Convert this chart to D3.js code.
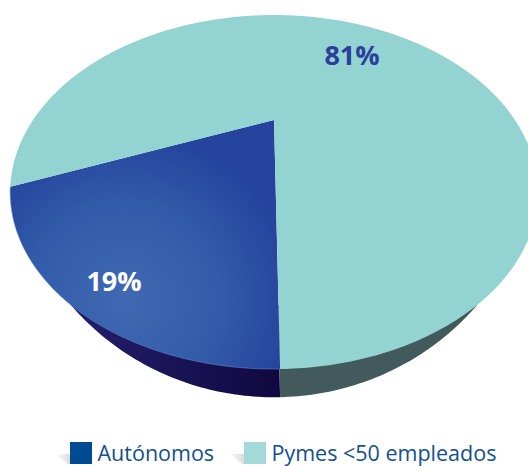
<!DOCTYPE html>
<html>
<head>
<meta charset="utf-8">
<style>
html, body { margin: 0; padding: 0; background: #fff; }
svg { display: block; }
text { font-family: "Open Sans", sans-serif; }
</style>
<script src="https://cdn.jsdelivr.net/npm/d3@7"></script>
</head>
<body>
<div id="chart"></div>
<script>
var categories = ["Autónomos", "Pymes <50 empleados"];
var shares = [19, 81];
var shareLabels = ["19%", "81%"];

var width = 528, height = 466;

var svg = d3.select("#chart").append("svg")
    .attr("width", width)
    .attr("height", height);

var defs = svg.append("defs");

var blueGrad = defs.append("radialGradient")
    .attr("id", "blueTop")
    .attr("gradientUnits", "userSpaceOnUse")
    .attr("cx", 125).attr("cy", 300).attr("r", 170);
blueGrad.append("stop").attr("offset", "0").attr("stop-color", "#4069b3");
blueGrad.append("stop").attr("offset", "0.55").attr("stop-color", "#325ca9");
blueGrad.append("stop").attr("offset", "1").attr("stop-color", "#24449d");

var wallGrad = defs.append("linearGradient")
    .attr("id", "blueWall")
    .attr("gradientUnits", "userSpaceOnUse")
    .attr("x1", 70).attr("y1", 0).attr("x2", 280).attr("y2", 0);
wallGrad.append("stop").attr("offset", "0").attr("stop-color", "#241f6e");
wallGrad.append("stop").attr("offset", "1").attr("stop-color", "#10083f");

var shadowGrad = defs.append("linearGradient")
    .attr("id", "legendShadow")
    .attr("x1", 1).attr("y1", 0).attr("x2", 0).attr("y2", 0);
shadowGrad.append("stop").attr("offset", "0").attr("stop-color", "#dcdcdc");
shadowGrad.append("stop").attr("offset", "1").attr("stop-color", "#fbfbfb");

// the pie is seen in perspective, so the apex sits well above the middle of the ellipse
var apexX = 274, apexY = 120;
var persp = -0.407;
var scaleX = 241, scaleY = 147.7;
var turn = 0.015;

function project(u, v) {
    var w = 1 + persp * v;
    return [apexX + scaleX * u / w, apexY + scaleY * v / w];
}

// below this line the rim shows its side wall, stretched down to the lower edge
var wallFrom = 305, wallStretch = 1.44;

function lower(p) {
    return p[1] > wallFrom ? [p[0], wallFrom + (p[1] - wallFrom) * wallStretch] : p;
}

defs.append("clipPath")
    .attr("id", "wallClip")
    .append("rect")
    .attr("x", 0).attr("y", wallFrom)
    .attr("width", width).attr("height", height - wallFrom);

var line = d3.line().curve(d3.curveLinear);

function rimPoints(d) {
    var n = Math.ceil((d.endAngle - d.startAngle) * 90);
    return d3.range(n + 1).map(function(i) {
        var a = d.startAngle + (d.endAngle - d.startAngle) * i / n;
        return project(Math.sin(a), -Math.cos(a));
    });
}

var pie = d3.pie().sort(null)
    .startAngle(Math.PI - turn)
    .endAngle(3 * Math.PI - turn);
var slices = pie(shares);

var topFills = ["url(#blueTop)", "#93d4d2"];
var wallFills = ["url(#blueWall)", "#435a5c"];

svg.append("g")
    .attr("clip-path", "url(#wallClip)")
    .selectAll("path.wall")
    .data(slices)
    .enter().append("path")
    .attr("class", "wall")
    .attr("fill", function(d, i) { return wallFills[i]; })
    .attr("d", function(d) {
        return line([[apexX, apexY]].concat(rimPoints(d).map(lower))) + "Z";
    });

svg.selectAll("path.top")
    .data(slices)
    .enter().append("path")
    .attr("class", "top")
    .attr("fill", function(d, i) { return topFills[i]; })
    .attr("d", function(d) {
        return line([[apexX, apexY]].concat(rimPoints(d))) + "Z";
    });

// thin highlight on the front edge of the blue slice
svg.append("path")
    .attr("fill", "none")
    .attr("stroke", "#6f8fd0")
    .attr("stroke-opacity", 0.5)
    .attr("d", line(rimPoints(slices[0])));

svg.append("text")
    .attr("x", 114).attr("y", 291)
    .attr("text-anchor", "middle")
    .attr("font-size", 27)
    .attr("font-weight", 700)
    .attr("fill", "#fff")
    .text(shareLabels[0]);

svg.append("text")
    .attr("x", 352).attr("y", 65)
    .attr("text-anchor", "middle")
    .attr("font-size", 27)
    .attr("font-weight", 700)
    .attr("fill", "#2b409b")
    .text(shareLabels[1]);

var legendX = [70, 244];
var legendColors = ["#004a93", "#a3dad9"];

var legend = svg.selectAll("g.legend")
    .data(categories)
    .enter().append("g")
    .attr("class", "legend")
    .attr("transform", function(d, i) { return "translate(" + legendX[i] + ",442)"; });

legend.append("path")
    .attr("d", "M-14,12L0,12L0,22L-2,22Z")
    .attr("fill", "url(#legendShadow)");

legend.append("rect")
    .attr("width", 22)
    .attr("height", 22)
    .attr("fill", function(d, i) { return legendColors[i]; });

legend.append("text")
    .attr("x", 27.5)
    .attr("y", 19)
    .attr("font-size", 21.5)
    .attr("fill", "#12508f")
    .text(function(d) { return d; });
</script>
</body>
</html>
